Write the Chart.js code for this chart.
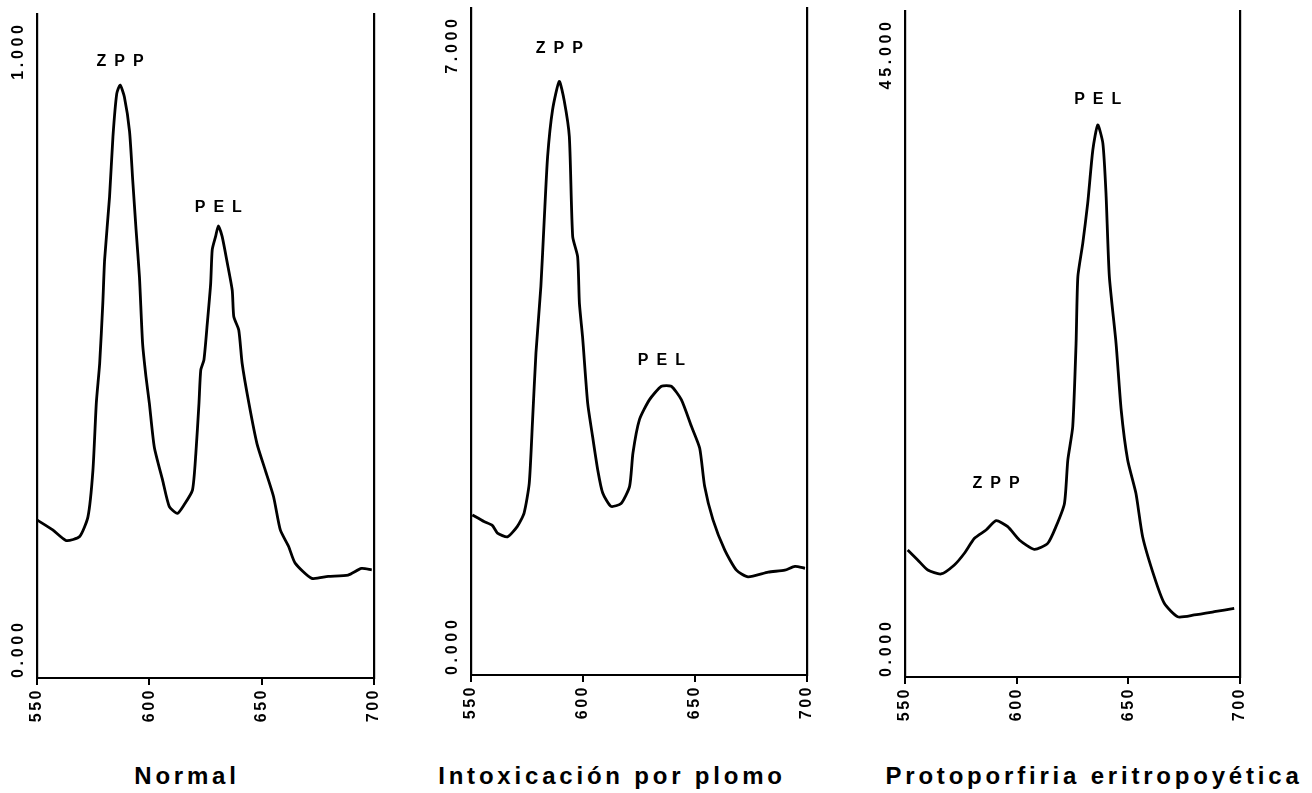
<!DOCTYPE html>
<html>
<head>
<meta charset="utf-8">
<script src="https://cdn.jsdelivr.net/npm/chart.js@4.4.1/dist/chart.umd.min.js"></script>
<style>
  body { margin: 0; background: #fff; width: 1312px; height: 793px; position: relative; overflow: hidden; }
  .panel { position: absolute; top: 0; width: 400px; height: 740px; }
  .caption {
    position: absolute; top: 762px; line-height: 24px;
    font: bold 24px "Liberation Sans", Arial, sans-serif; letter-spacing: 3.8px;
    white-space: nowrap; transform: translateX(-50%); color: #000;
  }
</style>
</head>
<body>
<div class="panel" style="left:0px"><canvas id="normalChart"></canvas></div>
<div class="panel" style="left:434px"><canvas id="leadChart"></canvas></div>
<div class="panel" style="left:868px"><canvas id="eppChart"></canvas></div>

<div class="caption" style="left:187px">Normal</div>
<div class="caption" style="left:612px">Intoxicación por plomo</div>
<div class="caption" style="left:1094px">Protoporfiria eritropoyética</div>

<script>
// wavelength axis (nm)
const xTicks = [550, 600, 650, 700];

// Normal
const normalNm = [550, 557, 563, 569, 572.7, 574.9, 576.4, 577.9, 579.3, 580.1, 582.3, 583.8, 585.5, 587, 588.9,
  591.2, 592.6, 594.1, 595.6, 597, 598.5, 600, 602.2, 605.9, 608.9, 612.5, 615.5, 619.2, 620.7, 622.1,
  622.9, 624.3, 625.8, 627.3, 628, 629.5, 630.7, 632.4, 634.7, 636.9, 637.6, 639.8, 641.3, 644.3, 647.9,
  651.6, 655.3, 658.3, 662, 664.9, 672.3, 679.6, 688.5, 694.4, 699];
const normalVals = [0.238, 0.223, 0.207, 0.213, 0.243, 0.313, 0.414, 0.474, 0.565, 0.630, 0.725, 0.815, 0.880, 0.893, 0.875,
  0.823, 0.750, 0.675, 0.604, 0.504, 0.454, 0.414, 0.348, 0.298, 0.258, 0.248, 0.261, 0.283, 0.338, 0.414,
  0.464, 0.479, 0.534, 0.594, 0.645, 0.665, 0.681, 0.665, 0.625, 0.584, 0.544, 0.524, 0.474, 0.414, 0.353,
  0.313, 0.273, 0.223, 0.198, 0.173, 0.150, 0.153, 0.155, 0.165, 0.163];
const normalRange = ["0.000", "1.000"];
const normalMax = 1;

// Intoxicación por plomo
const leadNm = [550.6, 555.8, 559.5, 561.8, 566.3, 570.7, 573.7, 576, 577.5, 579, 581.2, 582.7, 584.2, 586.4, 589.4,
  591.6, 593.9, 595.4, 597.6, 598.4, 599.8, 602.1, 604.3, 606.6, 608.8, 612.5, 617, 620.8, 622.3, 625.2,
  629.7, 635, 639.4, 643.9, 648.4, 652.1, 654.3, 658, 663.3, 668.5, 673.7, 682.7, 690.1, 694.6, 699.1];
const leadVals = [1.68, 1.61, 1.57, 1.49, 1.45, 1.56, 1.70, 2.01, 2.68, 3.38, 4.08, 4.78, 5.44, 5.93, 6.23,
  6.03, 5.65, 4.60, 4.39, 3.90, 3.55, 2.85, 2.50, 2.15, 1.91, 1.77, 1.80, 1.98, 2.33, 2.68,
  2.89, 3.03, 3.03, 2.89, 2.61, 2.38, 1.98, 1.63, 1.31, 1.10, 1.03, 1.08, 1.10, 1.14, 1.12];
const leadRange = ["0.000", "7.000"];
const leadMax = 7;

// Protoporfiria eritropoyética
const eppNm = [551.2, 555.7, 560.2, 566.1, 572.1, 576.6, 581.1, 586.3, 590.8, 596, 601.2, 607.9, 613.9, 617.6, 621.4,
  622.9, 625.1, 626.6, 627.4, 629.6, 631.8, 634.1, 636.3, 638.6, 640, 641.5, 644.5, 646.8, 649.7, 653.4,
  656.4, 661.6, 666.1, 672.1, 679.5, 688.5, 697.4];
const eppVals = [8.58, 7.91, 7.23, 6.96, 7.57, 8.36, 9.37, 9.93, 10.56, 10.16, 9.26, 8.63, 9.03, 10.16, 11.73,
  14.66, 16.91, 22.55, 27.05, 29.30, 32.00, 35.61, 37.30, 36.06, 32.68, 27.05, 22.55, 18.04, 14.66, 12.41,
  9.48, 6.78, 4.98, 4.07, 4.19, 4.41, 4.64];
const eppRange = ["0.000", "45.000"];
const eppMax = 45;

const FONT = '"Liberation Sans", Arial, sans-serif';

// end labels of the y axis (rotated) + peak names
const extraLabels = {
  id: "extraLabels",
  beforeDraw(chart) {
    chart.ctx.letterSpacing = "2.5px";
  },
  afterDraw(chart, args, opts) {
    const ctx = chart.ctx;
    const ys = chart.scales.y;
    const area = chart.chartArea;

    ctx.save();
    ctx.fillStyle = "#000";
    ctx.font = "bold 16px " + FONT;
    ctx.letterSpacing = "3.7px";
    ctx.textBaseline = "middle";

    const cx = area.left - 18;
    // bottom label starts at zero and reads upward
    ctx.save();
    ctx.translate(cx, ys.getPixelForValue(ys.min));
    ctx.rotate(-Math.PI / 2);
    ctx.textAlign = "left";
    ctx.fillText(opts.range[0], 0, 0);
    ctx.restore();
    // top label ends just under the top of the axis
    ctx.save();
    ctx.translate(cx, ys.getPixelForValue(ys.max) + 11);
    ctx.rotate(-Math.PI / 2);
    ctx.textAlign = "right";
    ctx.fillText(opts.range[1], 3.7, 0);
    ctx.restore();

    // peak names over the matching points
    const meta = chart.getDatasetMeta(0);
    const nm = chart.data.datasets[0].data.map((p) => p.x);
    ctx.font = "bold 16px " + FONT;
    ctx.letterSpacing = "8px";
    ctx.textAlign = "left";
    opts.peaks.forEach((pk) => {
      let best = 0;
      nm.forEach((v, i) => {
        if (Math.abs(v - pk.at) < Math.abs(nm[best] - pk.at)) best = i;
      });
      const pt = meta.data[best];
      const w = ctx.measureText(pk.text).width - 8;
      ctx.fillText(pk.text, pt.x - w / 2, pt.y - pk.dy);
    });
    ctx.restore();
  },
};

function makePanel(id, nm, vals, yMax, range, peaks, box) {
  const points = nm.map((x, i) => ({ x: x, y: vals[i] }));

  return new Chart(document.getElementById(id), {
    type: "line",
    data: {
      datasets: [
        {
          data: points,
          borderColor: "#000",
          borderWidth: 2.8,
          pointRadius: 0,
          tension: 0.2,
          fill: false,
        },
      ],
    },
    options: {
      responsive: true,
      maintainAspectRatio: false,
      animation: false,
      events: [],
      layout: { padding: { left: 0, top: box.top, right: box.right, bottom: 0 } },
      scales: {
        x: {
          type: "linear",
          min: 550,
          max: 700,
          afterBuildTicks: (scale) => {
            scale.ticks = xTicks.map((v) => ({ value: v }));
          },
          afterFit: (scale) => {
            scale.height = box.xAxisH;
          },
          border: { display: true, color: "#000", width: 2 },
          grid: { display: true, drawOnChartArea: false, drawTicks: true, tickLength: 7, color: "#000", lineWidth: 2 },
          ticks: {
            minRotation: 90,
            maxRotation: 90,
            padding: 3,
            color: "#000",
            font: { family: FONT, size: 16, weight: "bold" },
            callback: (v) => String(v),
          },
        },
        y: {
          min: 0,
          max: yMax,
          afterFit: (scale) => {
            scale.width = box.axisW;
          },
          border: { display: true, color: "#000", width: 2.2 },
          grid: { display: false },
          ticks: { display: false },
        },
        y2: {
          position: "right",
          min: 0,
          max: yMax,
          afterFit: (scale) => {
            scale.width = 0;
          },
          border: { display: true, color: "#000", width: 2.2 },
          grid: { display: false },
          ticks: { display: false },
        },
      },
      plugins: {
        legend: { display: false },
        tooltip: { enabled: false },
        extraLabels: { range: range, peaks: peaks },
      },
    },
    plugins: [extraLabels],
  });
}

makePanel("normalChart", normalNm, normalVals, normalMax, normalRange,
  [{ text: "ZPP", at: 587, dy: 23 }, { text: "PEL", at: 630.7, dy: 18 }],
  { top: 14, right: 26, axisW: 37, xAxisH: 62 });

makePanel("leadChart", leadNm, leadVals, leadMax, leadRange,
  [{ text: "ZPP", at: 589.4, dy: 33 }, { text: "PEL", at: 637, dy: 26 }],
  { top: 8, right: 27, axisW: 37, xAxisH: 65 });

makePanel("eppChart", eppNm, eppVals, eppMax, eppRange,
  [{ text: "ZPP", at: 590.8, dy: 37 }, { text: "PEL", at: 636.3, dy: 25 }],
  { top: 11, right: 28, axisW: 37, xAxisH: 63 });
</script>
</body>
</html>
